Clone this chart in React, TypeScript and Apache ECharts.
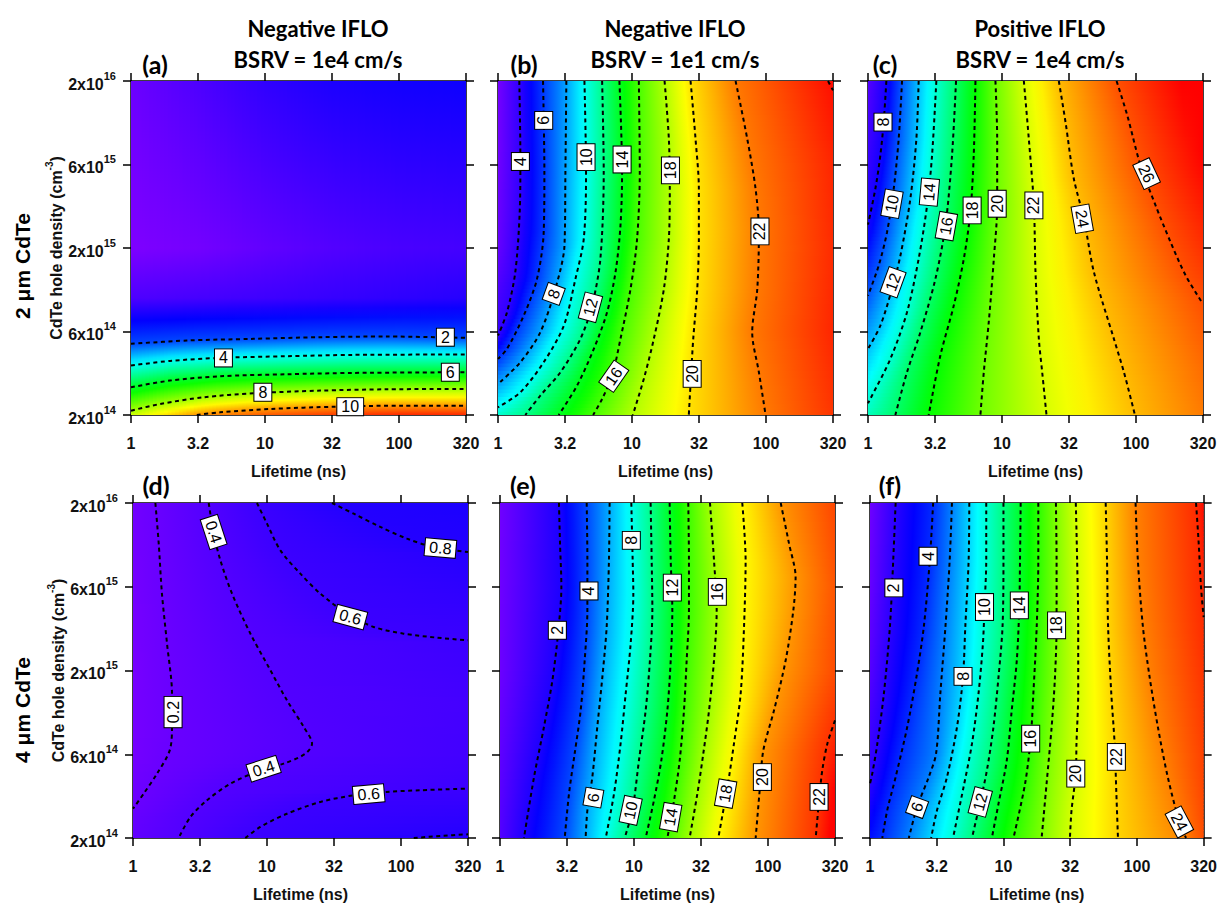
import React, { useEffect, useRef } from "react";
import * as echarts from "echarts";

// ---------- axis / text data ----------
// Axes are in decades: x = log10(lifetime / 1 ns), y = log10(hole density / 2e14 cm^-3)
const LIFETIME_TICK_LABELS = ["1", "3.2", "10", "32", "100", "320"];
const DENSITY_TICK_LABELS: [string, string][] = [["2", "14"], ["6", "14"], ["2", "15"], ["6", "15"], ["2", "16"]];
const COLUMN_TITLES = [["Negative IFLO", "BSRV = 1e4 cm/s"], ["Negative IFLO", "BSRV = 1e1 cm/s"], ["Positive IFLO", "BSRV = 1e4 cm/s"]];
const PANEL_LETTERS = ["(a)", "(b)", "(c)", "(d)", "(e)", "(f)"];
const ROW_TITLES = ["2 \u03bcm CdTe", "4 \u03bcm CdTe"];
const X_NAME = "Lifetime (ns)";

type Pt = number[];
type Contour = [number, Pt[]];
type Label = [number, number, string, number];

// ---------- panel (a) ----------
const A_CONTOURS: Contour[] = [
  [2, [[0, 0.426], [0.416, 0.446], [0.914, 0.456], [1.412, 0.466], [1.91, 0.47], [2.5, 0.462]]],
  [4, [[0, 0.296], [0.291, 0.324], [0.665, 0.342], [1.163, 0.352], [1.661, 0.36], [2.5, 0.362]]],
  [6, [[0, 0.166], [0.291, 0.206], [0.665, 0.232], [1.163, 0.244], [1.661, 0.252], [2.5, 0.256]]],
  [8, [[0, 0.026], [0.217, 0.066], [0.54, 0.106], [0.914, 0.13], [1.412, 0.146], [1.91, 0.154], [2.5, 0.156]]],
  [10, [[0.491, 0], [0.665, 0.016], [1.038, 0.036], [1.536, 0.05], [2.034, 0.056], [2.5, 0.056]]],
];
const A_EDGE_VALUES: Pt[][] = [
  [[0, 2, 0.2], [0.5, 2, 0.5], [1, 2, 0.8], [1.5, 2, 1.0], [2, 2, 1.1], [2.5, 2, 1.15]],
  [[0, 1, 0.02], [0.5, 1, 0.12], [1, 1, 0.3], [1.5, 1, 0.45], [2, 1, 0.55], [2.5, 1, 0.6]],
  [[0, 0.7, 0.5], [1.25, 0.7, 0.7], [2.5, 0.7, 0.9]],
  [[0, 0, 8.4], [0.491, 0, 10], [1, 0, 10.6], [1.5, 0, 10.9], [2, 0, 11.1], [2.5, 0, 11.1]],
];
const A_LABELS: Label[] = [[2.346, 0.466, "2", 0], [0.69, 0.342, "4", 0], [2.383, 0.256, "6", 0], [0.984, 0.136, "8", 0], [1.636, 0.05, "10", 0]];

// ---------- panel (b) ----------
const B_CONTOURS: Contour[] = [
  [4, [[0.159, 2], [0.167, 1.534], [0.162, 1.215], [0.129, 0.855], [0.067, 0.615], [0, 0.476]]],
  [6, [[0.336, 2], [0.346, 1.455], [0.341, 1.095], [0.291, 0.815], [0.192, 0.595], [0.067, 0.396], [0, 0.336]]],
  [8, [[0.51, 2], [0.503, 1.455], [0.496, 1.015], [0.428, 0.755], [0.316, 0.496], [0.167, 0.316], [0, 0.186]]],
  [10, [[0.645, 2], [0.657, 1.455], [0.64, 1.055], [0.578, 0.815], [0.491, 0.535], [0.341, 0.316], [0.167, 0.136], [0, 0.046]]],
  [12, [[0.777, 2], [0.789, 1.455], [0.764, 0.935], [0.702, 0.655], [0.615, 0.456], [0.466, 0.256], [0.316, 0.116], [0.204, 0]]],
  [14, [[0.906, 2], [0.926, 1.455], [0.914, 1.135], [0.877, 0.855], [0.814, 0.615], [0.715, 0.396], [0.59, 0.176], [0.453, 0]]],
  [16, [[1.051, 2], [1.058, 1.455], [1.038, 1.055], [0.989, 0.755], [0.914, 0.456], [0.852, 0.236], [0.777, 0.096], [0.71, 0]]],
  [18, [[1.243, 2], [1.275, 1.654], [1.282, 1.355], [1.275, 1.055], [1.238, 0.755], [1.163, 0.456], [1.088, 0.216], [1.006, 0]]],
  [20, [[1.437, 2], [1.474, 1.654], [1.499, 1.355], [1.499, 1.055], [1.487, 0.755], [1.457, 0.456], [1.442, 0.256], [1.424, 0]]],
  [22, [[1.773, 2], [1.86, 1.654], [1.922, 1.355], [1.947, 1.095], [1.935, 0.755], [1.897, 0.496], [1.947, 0.256], [1.997, 0]]],
  [24, [[2.463, 2], [2.5, 1.944]]],
];
const B_EDGE_VALUES: Pt[][] = [
  [[0, 2, 2.7], [0, 1.5, 2.8], [0, 1.0, 3.0], [0, 0.476, 4], [0, 0.336, 6], [0, 0.186, 8], [0, 0.046, 10], [0, 0, 10.7]],
  [[2.5, 2, 24.2], [2.5, 1.944, 24], [2.5, 1.5, 23.6], [2.5, 1.0, 23.5], [2.5, 0.5, 23.6], [2.5, 0, 23.3]],
];
const B_LABELS: Label[] = [[0.341, 1.764, "6", 90], [0.167, 1.518, "4", 90], [0.657, 1.544, "10", 90], [0.926, 1.53, "14", 90], [1.287, 1.465, "18", 90], [1.955, 1.099, "22", 90], [0.416, 0.725, "8", 70], [0.69, 0.645, "12", 75], [0.864, 0.232, "16", 55], [1.449, 0.246, "20", 90]];

// ---------- panel (c) ----------
const C_CONTOURS: Contour[] = [
  [8, [[0.137, 2], [0.117, 1.754], [0.092, 1.554], [0.055, 1.355], [0, 1.14]]],
  [10, [[0.254, 2], [0.229, 1.654], [0.192, 1.355], [0.142, 1.095], [0.08, 0.895], [0, 0.715]]],
  [12, [[0.378, 2], [0.361, 1.654], [0.316, 1.295], [0.242, 0.955], [0.179, 0.755], [0.092, 0.535], [0, 0.396]]],
  [14, [[0.51, 2], [0.478, 1.554], [0.441, 1.255], [0.378, 0.935], [0.291, 0.615], [0.167, 0.336], [0.017, 0.096], [0, 0.07]]],
  [16, [[0.657, 2], [0.627, 1.554], [0.578, 1.135], [0.503, 0.815], [0.391, 0.496], [0.291, 0.256], [0.204, 0]]],
  [18, [[0.802, 2], [0.789, 1.554], [0.764, 1.215], [0.715, 0.935], [0.64, 0.655], [0.54, 0.356], [0.453, 0]]],
  [20, [[0.951, 2], [0.964, 1.654], [0.964, 1.255], [0.939, 0.935], [0.901, 0.555], [0.864, 0.256], [0.839, 0]]],
  [22, [[1.163, 2], [1.2, 1.654], [1.238, 1.255], [1.25, 0.855], [1.275, 0.456], [1.3, 0.256], [1.332, 0]]],
  [24, [[1.424, 2], [1.474, 1.754], [1.536, 1.415], [1.611, 1.175], [1.686, 0.855], [1.835, 0.456], [1.91, 0.256], [1.992, 0]]],
  [26, [[1.855, 2], [1.935, 1.794], [2.034, 1.494], [2.146, 1.255], [2.258, 1.035], [2.371, 0.835], [2.5, 0.665]]],
];
const C_EDGE_VALUES: Pt[][] = [
  [[0, 2, 6.8], [0, 1.5, 7.4], [0, 1.14, 8], [0, 0.715, 10], [0, 0.396, 12], [0, 0.07, 14], [0, 0, 14.4]],
  [[2.5, 2, 28], [2.5, 1.5, 27.4], [2.5, 1.0, 26.6], [2.5, 0.665, 26], [2.5, 0.3, 25.5], [2.5, 0, 25.2]],
];
const C_LABELS: Label[] = [[0.112, 1.754, "8", 90], [0.179, 1.265, "10", 80], [0.187, 0.795, "12", 70], [0.458, 1.335, "14", 85], [0.585, 1.131, "16", 80], [0.777, 1.225, "18", 90], [0.964, 1.265, "20", 90], [1.238, 1.255, "22", 90], [1.599, 1.175, "24", -80], [2.079, 1.445, "26", -65]];

// ---------- panel (d) ----------
const D_CONTOURS: Contour[] = [
  [0.2, [[0.167, 2], [0.192, 1.757], [0.216, 1.459], [0.254, 1.16], [0.291, 0.862], [0.291, 0.663], [0.274, 0.523], [0.179, 0.384], [0.08, 0.265], [0, 0.175]]],
  [0.4, [[0.565, 2], [0.602, 1.817], [0.652, 1.658], [0.739, 1.459], [0.876, 1.22], [1.012, 1.021], [1.149, 0.822], [1.274, 0.663], [1.336, 0.563], [1.286, 0.503], [1.124, 0.444], [0.95, 0.404], [0.726, 0.324], [0.552, 0.225], [0.428, 0.125], [0.341, 0]]],
  [0.6, [[0.925, 2], [1.0, 1.877], [1.1, 1.717], [1.249, 1.578], [1.398, 1.459], [1.597, 1.339], [1.796, 1.26], [2.02, 1.22], [2.269, 1.196], [2.5, 1.18]]],
  [0.6, [[0.838, 0], [0.95, 0.066], [1.149, 0.145], [1.398, 0.215], [1.647, 0.255], [1.896, 0.275], [2.144, 0.285], [2.5, 0.295]]],
  [0.8, [[1.485, 2], [1.647, 1.936], [1.846, 1.857], [2.045, 1.787], [2.244, 1.737], [2.5, 1.707]]],
  [0.8, [[2.095, 0], [2.294, 0.012], [2.5, 0.022]]],
];
const D_EDGE_VALUES: Pt[][] = [
  [[0, 2, 0.12], [0, 1, 0.08], [0, 0.5, 0.1], [0, 0.175, 0.2], [0, 0, 0.27]],
  [[2.5, 2, 0.88], [2.5, 1.707, 0.8], [2.5, 1.5, 0.72], [2.5, 1.18, 0.6], [2.5, 0.8, 0.52], [2.5, 0.5, 0.54], [2.5, 0.295, 0.6], [2.5, 0.15, 0.7], [2.5, 0.022, 0.8], [2.5, 0, 0.81]],
];
const D_LABELS: Label[] = [[0.299, 0.752, "0.2", 90], [0.602, 1.827, "0.4", -72], [1.622, 1.319, "0.6", -15], [2.294, 1.731, "0.8", -5], [0.975, 0.414, "0.4", 18], [1.759, 0.262, "0.6", 5]];

// ---------- panel (e) ----------
const E_CONTOURS: Contour[] = [
  [2, [[0.44, 2], [0.448, 1.757], [0.458, 1.499], [0.433, 1.22], [0.391, 0.941], [0.328, 0.663], [0.254, 0.364], [0.179, 0]]],
  [4, [[0.647, 2], [0.652, 1.658], [0.652, 1.359], [0.632, 1.061], [0.602, 0.762], [0.557, 0.503], [0.515, 0.265], [0.483, 0]]],
  [6, [[0.818, 2], [0.813, 1.658], [0.796, 1.26], [0.764, 0.962], [0.726, 0.663], [0.689, 0.364], [0.652, 0.165], [0.639, 0]]],
  [8, [[0.98, 2], [0.99, 1.658], [0.995, 1.459], [0.975, 1.16], [0.938, 0.862], [0.9, 0.563], [0.851, 0.265], [0.789, 0]]],
  [10, [[1.124, 2], [1.132, 1.658], [1.137, 1.359], [1.119, 1.061], [1.087, 0.762], [1.037, 0.464], [0.988, 0.165], [0.93, 0]]],
  [12, [[1.266, 2], [1.274, 1.658], [1.286, 1.359], [1.274, 1.061], [1.249, 0.762], [1.204, 0.464], [1.149, 0.225], [1.087, 0]]],
  [14, [[1.405, 2], [1.41, 1.658], [1.41, 1.359], [1.393, 1.061], [1.373, 0.762], [1.341, 0.464], [1.299, 0.225], [1.249, 0]]],
  [16, [[1.567, 2], [1.597, 1.658], [1.617, 1.359], [1.597, 1.061], [1.56, 0.762], [1.517, 0.503], [1.473, 0.265], [1.415, 0]]],
  [18, [[1.808, 2], [1.833, 1.658], [1.821, 1.26], [1.796, 0.862], [1.746, 0.563], [1.697, 0.304], [1.629, 0]]],
  [20, [[2.095, 2], [2.157, 1.757], [2.206, 1.558], [2.189, 1.359], [2.132, 1.061], [2.045, 0.762], [1.965, 0.523], [1.94, 0.304], [1.908, 0]]],
  [22, [[2.5, 0.702], [2.443, 0.563], [2.405, 0.404], [2.381, 0.225], [2.356, 0]]],
];
const E_EDGE_VALUES: Pt[][] = [
  [[0, 2, 0.3], [0, 1, 0.4], [0, 0, 0.9]],
  [[2.5, 2, 21.6], [2.5, 1.5, 21.3], [2.5, 1, 21.5], [2.5, 0.702, 22], [2.5, 0.3, 23], [2.5, 0, 23.3]],
];
const E_LABELS: Label[] = [[0.98, 1.777, "8", 90], [0.664, 1.475, "4", 90], [0.428, 1.24, "2", 90], [1.286, 1.495, "12", 90], [1.622, 1.469, "16", 90], [0.697, 0.241, "6", 80], [0.975, 0.165, "10", 78], [1.274, 0.125, "14", 80], [1.684, 0.265, "18", 80], [1.958, 0.364, "20", 90], [2.381, 0.245, "22", 90]];

// ---------- panel (f) ----------
const F_CONTOURS: Contour[] = [
  [2, [[0.192, 2], [0.174, 1.658], [0.149, 1.26], [0.104, 0.862], [0.055, 0.563], [0.017, 0.384], [0, 0.324]]],
  [4, [[0.473, 2], [0.448, 1.658], [0.403, 1.26], [0.348, 0.962], [0.279, 0.663], [0.192, 0.364], [0.129, 0.165], [0.092, 0]]],
  [6, [[0.614, 2], [0.597, 1.658], [0.565, 1.26], [0.527, 0.862], [0.495, 0.503], [0.44, 0.364], [0.353, 0.185], [0.291, 0]]],
  [8, [[0.744, 2], [0.739, 1.658], [0.714, 1.26], [0.697, 0.965], [0.652, 0.663], [0.577, 0.364], [0.502, 0.165], [0.458, 0]]],
  [10, [[0.871, 2], [0.871, 1.658], [0.858, 1.379], [0.846, 1.16], [0.813, 0.862], [0.764, 0.563], [0.701, 0.304], [0.622, 0]]],
  [12, [[1.0, 2], [1.0, 1.658], [0.993, 1.26], [0.963, 0.962], [0.925, 0.663], [0.876, 0.404], [0.826, 0.215], [0.764, 0]]],
  [14, [[1.129, 2], [1.124, 1.658], [1.119, 1.389], [1.1, 1.061], [1.062, 0.762], [1.025, 0.464], [0.963, 0.205], [0.913, 0]]],
  [16, [[1.261, 2], [1.261, 1.658], [1.249, 1.26], [1.224, 0.862], [1.204, 0.593], [1.162, 0.324], [1.075, 0]]],
  [18, [[1.393, 2], [1.398, 1.658], [1.398, 1.27], [1.386, 0.962], [1.361, 0.663], [1.323, 0.324], [1.286, 0]]],
  [20, [[1.542, 2], [1.552, 1.658], [1.56, 1.26], [1.56, 0.862], [1.547, 0.563], [1.542, 0.384], [1.51, 0.165], [1.498, 0]]],
  [22, [[1.766, 2], [1.776, 1.658], [1.784, 1.26], [1.808, 0.862], [1.833, 0.563], [1.846, 0.265], [1.858, 0]]],
  [24, [[1.99, 2], [2.007, 1.658], [2.045, 1.26], [2.095, 0.962], [2.157, 0.663], [2.231, 0.364], [2.318, 0.096], [2.368, 0]]],
  [26, [[2.443, 2], [2.463, 1.757], [2.48, 1.499], [2.5, 1.319]]],
];
const F_EDGE_VALUES: Pt[][] = [
  [[0, 2, 0.4], [0, 1.5, 0.6], [0, 1, 1.0], [0, 0.324, 2], [0, 0, 3.3]],
  [[2.5, 2, 26.8], [2.5, 1.319, 26], [2.5, 1, 25.8], [2.5, 0.5, 25.5], [2.5, 0, 25.2]],
];
const F_LABELS: Label[] = [[0.435, 1.682, "4", 90], [0.179, 1.493, "2", 90], [0.858, 1.379, "10", 90], [1.119, 1.389, "14", 90], [1.398, 1.27, "18", 90], [0.697, 0.965, "8", 90], [1.204, 0.593, "16", 90], [1.542, 0.384, "20", 90], [1.846, 0.484, "22", 90], [0.353, 0.185, "6", 70], [0.826, 0.215, "12", 75], [2.318, 0.096, "24", -62]];

// ---------- layout / style ----------
const X_MAX = 2.5;
const Y_MAX = 2;
const FONT = "'Liberation Sans', Arial, sans-serif";
const TITLE_FONT = "Lato, 'Liberation Sans', sans-serif";
const N_STRIPS = 90;

const PANELS = [
  { left: 131, top: 81, h: 334, contours: A_CONTOURS, edges: A_EDGE_VALUES, labels: A_LABELS, orient: "col", vmin: 0, vmax: 11.5, showY: true },
  { left: 498, top: 81, h: 334, contours: B_CONTOURS, edges: B_EDGE_VALUES, labels: B_LABELS, orient: "row", vmin: 2.5, vmax: 24.3, showY: false },
  { left: 868, top: 81, h: 334, contours: C_CONTOURS, edges: C_EDGE_VALUES, labels: C_LABELS, orient: "row", vmin: 6, vmax: 27.5, showY: false },
  { left: 133, top: 503, h: 335, contours: D_CONTOURS, edges: D_EDGE_VALUES, labels: D_LABELS, orient: "row", vmin: 0, vmax: 10, showY: true },
  { left: 500, top: 503, h: 335, contours: E_CONTOURS, edges: E_EDGE_VALUES, labels: E_LABELS, orient: "row", vmin: 0, vmax: 23, showY: false },
  { left: 870, top: 503, h: 335, contours: F_CONTOURS, edges: F_EDGE_VALUES, labels: F_LABELS, orient: "row", vmin: 0, vmax: 27, showY: false },
];

function rainbow(v: number, vmin: number, vmax: number) {
  const f = Math.min(1, Math.max(0, (v - vmin) / (vmax - vmin)));
  const h = (270 * (1 - f)) / 60;
  const x = 1 - Math.abs((h % 2) - 1);
  let r = 0, g = 0, b = 0;
  if (h < 1) { r = 1; g = x; }
  else if (h < 2) { r = x; g = 1; }
  else if (h < 3) { g = 1; b = x; }
  else if (h < 4) { g = x; b = 1; }
  else { r = x; b = 1; }
  return `rgb(${Math.round(r * 255)},${Math.round(g * 255)},${Math.round(b * 255)})`;
}

// crossings of all lines with the line coord[fixedIdx] = c
function crossings(lines: { pts: Pt[]; level?: number }[], c: number, fixedIdx: number) {
  const varIdx = 1 - fixedIdx;
  const out: number[][] = [];
  for (const ln of lines) {
    const p = ln.pts;
    for (let k = 0; k < p.length - 1; k++) {
      const a = p[k], b = p[k + 1];
      const fa = a[fixedIdx], fb = b[fixedIdx];
      if ((fa <= c && fb > c) || (fb <= c && fa > c)) {
        const t = (c - fa) / (fb - fa);
        const pos = a[varIdx] + t * (b[varIdx] - a[varIdx]);
        const val = ln.level !== undefined ? ln.level : a[2] + t * (b[2] - a[2]);
        out.push([pos, val]);
      }
    }
  }
  return out;
}

function buildStrips(p: any) {
  const lines = [
    ...p.contours.map((c: Contour) => ({ level: c[0], pts: c[1] })),
    ...p.edges.map((e: Pt[]) => ({ pts: e })),
  ];
  const isRow = p.orient === "row";
  const span = isRow ? Y_MAX : X_MAX;
  const len = isRow ? X_MAX : Y_MAX;
  const strips: any[] = [];
  for (let i = 0; i < N_STRIPS; i++) {
    const c0 = (span * i) / N_STRIPS, c1 = (span * (i + 1)) / N_STRIPS;
    const cr = crossings(lines, (c0 + c1) / 2, isRow ? 1 : 0);
    const st = cr.map(([pos, v]) => [Math.min(1, Math.max(0, isRow ? pos / len : 1 - pos / len)), v]);
    st.sort((a, b) => a[0] - b[0]);
    const stops: any[] = [];
    for (let k = 0; k < st.length; k++) {
      stops.push({ offset: st[k][0], color: rainbow(st[k][1], p.vmin, p.vmax) });
      if (k < st.length - 1) {
        for (let m = 1; m < 4; m++) {
          const o = st[k][0] + ((st[k + 1][0] - st[k][0]) * m) / 4;
          const v = st[k][1] + ((st[k + 1][1] - st[k][1]) * m) / 4;
          stops.push({ offset: o, color: rainbow(v, p.vmin, p.vmax) });
        }
      }
    }
    strips.push({ c0, c1, stops });
  }
  return strips;
}

function buildOption() {
  const grid: any[] = [], xAxis: any[] = [], yAxis: any[] = [], series: any[] = [];
  const lineStyleAxis = { color: "#000", width: 1.5 };
  PANELS.forEach((p, i) => {
    grid.push({ left: p.left, top: p.top, width: 335, height: p.h });
    const baseX = {
      type: "value", gridIndex: i, min: 0, max: X_MAX, interval: 0.5,
      axisLine: { show: true, onZero: false, lineStyle: lineStyleAxis },
      axisTick: { show: true, inside: false, length: 8, lineStyle: lineStyleAxis },
      splitLine: { show: false },
    };
    xAxis.push({
      ...baseX, position: "bottom",
      axisLabel: { show: true, margin: 20, fontSize: 16, fontWeight: "bold", fontFamily: FONT, color: "#111",
        formatter: (v: number) => LIFETIME_TICK_LABELS[Math.round(v / 0.5)] ?? "" },
      name: X_NAME, nameLocation: "middle", nameGap: 48,
      nameTextStyle: { fontSize: 16, fontWeight: "bold", fontFamily: FONT, color: "#111" },
    });
    xAxis.push({ ...baseX, position: "top", axisLabel: { show: false } });
    const baseY = {
      type: "value", gridIndex: i, min: 0, max: Y_MAX, interval: 0.5,
      axisLine: { show: true, onZero: false, lineStyle: lineStyleAxis },
      axisTick: { show: true, inside: false, length: 8, lineStyle: lineStyleAxis },
      splitLine: { show: false },
    };
    yAxis.push({
      ...baseY, position: "left",
      axisLabel: {
        show: p.showY, margin: 15,
        formatter: (v: number) => {
          const t = DENSITY_TICK_LABELS[Math.round(v / 0.5)];
          return t ? `{b|${t[0]}x10}{s|${t[1]}}` : "";
        },
        rich: {
          b: { fontSize: 16, fontWeight: "bold", fontFamily: FONT, color: "#111", lineHeight: 22, verticalAlign: "bottom" },
          s: { fontSize: 11, fontWeight: "bold", fontFamily: FONT, color: "#111", lineHeight: 11, verticalAlign: "top" },
        },
      },
      name: p.showY ? "{n|CdTe hole density (cm}{s|-3}{n|)}" : "",
      nameLocation: "middle", nameGap: 63, nameRotate: 90,
      nameTextStyle: {
        rich: {
          n: { fontSize: 16, fontWeight: "bold", fontFamily: FONT, color: "#111", lineHeight: 20, verticalAlign: "bottom" },
          s: { fontSize: 10, fontWeight: "bold", fontFamily: FONT, color: "#111", lineHeight: 10, verticalAlign: "top" },
        },
      },
    });
    yAxis.push({ ...baseY, position: "right", axisLabel: { show: false } });

    const strips = buildStrips(p);
    const isRow = p.orient === "row";
    series.push({
      type: "custom", xAxisIndex: 2 * i, yAxisIndex: 2 * i, z: 1, silent: true, clip: true,
      data: strips.map((s) => (isRow ? [X_MAX / 2, (s.c0 + s.c1) / 2] : [(s.c0 + s.c1) / 2, Y_MAX / 2])),
      encode: { x: 0, y: 1 },
      renderItem: (params: any, api: any) => {
        const s = strips[params.dataIndex];
        if (isRow) {
          const a = api.coord([0, s.c1]);
          const b = api.coord([X_MAX, s.c0]);
          return {
            type: "rect",
            shape: { x: a[0], y: a[1] - 0.5, width: b[0] - a[0], height: b[1] - a[1] + 1 },
            style: { fill: { type: "linear", x: 0, y: 0, x2: 1, y2: 0, colorStops: s.stops }, stroke: null },
          };
        }
        const a = api.coord([s.c0, Y_MAX]);
        const b = api.coord([s.c1, 0]);
        return {
          type: "rect",
          shape: { x: a[0] - 0.5, y: a[1], width: b[0] - a[0] + 1, height: b[1] - a[1] },
          style: { fill: { type: "linear", x: 0, y: 0, x2: 0, y2: 1, colorStops: s.stops }, stroke: null },
        };
      },
    });
    p.contours.forEach((c: Contour) => {
      series.push({
        type: "line", xAxisIndex: 2 * i, yAxisIndex: 2 * i, z: 2, silent: true,
        data: c[1], showSymbol: false, smooth: 0.3, clip: true,
        lineStyle: { color: "#000", width: 2, type: [4, 3.5] },
      });
    });
    const labels: Label[] = p.labels;
    series.push({
      type: "custom", xAxisIndex: 2 * i, yAxisIndex: 2 * i, z: 3, silent: true, clip: false,
      data: labels.map((l) => [l[0], l[1]]),
      encode: { x: 0, y: 1 },
      renderItem: (params: any, api: any) => {
        const l = labels[params.dataIndex];
        const pt = api.coord([l[0], l[1]]);
        return {
          type: "text", x: pt[0], y: pt[1], rotation: (l[3] * Math.PI) / 180,
          style: {
            text: l[2], x: 0, y: 0, align: "center", verticalAlign: "middle",
            font: `16px ${FONT}`, fill: "#000",
            backgroundColor: "#fff", borderColor: "#000", borderWidth: 1, padding: [1, 4, 0, 4],
          },
        };
      },
    });
  });

  const graphic: any[] = [];
  const titleX = [318, 675, 1040];
  COLUMN_TITLES.forEach((t, j) => {
    graphic.push({ type: "text", x: titleX[j], y: 28, style: { text: t[0], font: `bold 22px ${TITLE_FONT}`, fill: "#000", align: "center", verticalAlign: "middle", textAlign: "center", textVerticalAlign: "middle" } });
    graphic.push({ type: "text", x: titleX[j], y: 59, style: { text: t[1], font: `bold 22px ${TITLE_FONT}`, fill: "#000", align: "center", verticalAlign: "middle", textAlign: "center", textVerticalAlign: "middle" } });
  });
  const letterPos = [[155, 64], [524, 64], [885, 64], [156, 485], [523, 485], [890, 485]];
  PANEL_LETTERS.forEach((t, j) => {
    graphic.push({ type: "text", x: letterPos[j][0], y: letterPos[j][1], style: { text: t, font: `bold 25px ${TITLE_FONT}`, fill: "#000", align: "center", verticalAlign: "middle", textAlign: "center", textVerticalAlign: "middle" } });
  });
  const rowPos = [[22, 266], [22, 710]];
  ROW_TITLES.forEach((t, j) => {
    graphic.push({ type: "text", x: rowPos[j][0], y: rowPos[j][1], rotation: Math.PI / 2, style: { text: t, font: `bold 21px ${FONT}`, fill: "#000", align: "center", verticalAlign: "middle", textAlign: "center", textVerticalAlign: "middle" } });
  });

  return { animation: false, backgroundColor: "#fff", grid, xAxis, yAxis, series, graphic };
}

export default function App() {
  const ref = useRef<HTMLDivElement>(null);
  useEffect(() => {
    const chart = echarts.init(ref.current as HTMLDivElement, null, { renderer: "svg" });
    chart.setOption(buildOption() as any);
    return () => chart.dispose();
  }, []);
  return <div ref={ref} style={{ position: "absolute", left: 0, top: 0, width: 1220, height: 903, background: "#fff" }} />;
}
